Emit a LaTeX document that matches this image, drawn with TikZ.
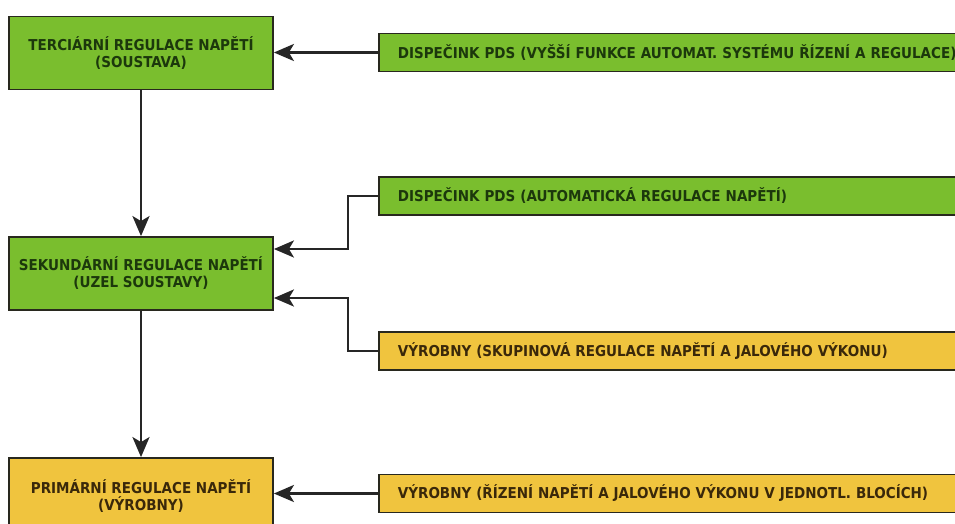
\documentclass[tikz,border=0pt]{standalone}
\usepackage{fontspec}
\setmainfont{DejaVu Sans Condensed}
\usetikzlibrary{arrows.meta}
\definecolor{gfill}{RGB}{122,190,46}
\definecolor{yfill}{RGB}{240,196,62}
\definecolor{gtext}{RGB}{28,56,12}
\definecolor{ytext}{RGB}{58,40,10}
\definecolor{bord}{RGB}{40,40,30}
\begin{document}
\begin{tikzpicture}[x=1pt,y=-1pt,
  box/.style={draw=bord,line width=1.8pt,font=\bfseries\fontsize{15}{17}\selectfont,align=center,inner sep=0pt},
  lbox/.style={box,minimum width=264pt,minimum height=73pt},
  rbox/.style={box,anchor=west,minimum height=38pt,text width=600pt,inner xsep=19pt,align=left},
  gbox/.style={fill=gfill,text=gtext},
  ybox/.style={fill=yfill,text=ytext},
  conn/.style={line width=2.6pt,draw=black!85,-{Stealth[length=20pt,width=17pt,inset=5pt]}}]
\useasboundingbox (0,0) rectangle (955,523);
\clip (0,0) rectangle (955,523);
\fill[white] (0,0) rectangle (955,523);
\node[lbox,gbox] (terc) at (141,53) {TERCIÁRNÍ REGULACE NAPĚTÍ\\(SOUSTAVA)};
\node[lbox,gbox] (sek) at (141,273.5) {SEKUNDÁRNÍ REGULACE NAPĚTÍ\\(UZEL SOUSTAVY)};
\node[lbox,ybox,minimum height=76pt] (prim) at (141,496) {PRIMÁRNÍ REGULACE NAPĚTÍ\\(VÝROBNY)};
\node[rbox,gbox] (r1) at (378,52.5) {DISPEČINK PDS (VYŠŠÍ FUNKCE AUTOMAT. SYSTÉMU ŘÍZENÍ A REGULACE)};
\node[rbox,gbox] (r2) at (378,196) {DISPEČINK PDS (AUTOMATICKÁ REGULACE NAPĚTÍ)};
\node[rbox,ybox] (r3) at (378,351) {VÝROBNY (SKUPINOVÁ REGULACE NAPĚTÍ A JALOVÉHO VÝKONU)};
\node[rbox,ybox] (r4) at (378,493.5) {VÝROBNY (ŘÍZENÍ NAPĚTÍ A JALOVÉHO VÝKONU V JEDNOTL. BLOCÍCH)};
\coordinate (j1) at (348,249);
\coordinate (j2) at (348,298);
\draw[conn] (r1.west) -- (r1.west -| terc.east);
\draw[conn] (r2.west) -- (r2.west -| j1) -- (j1) -- (j1 -| sek.east);
\draw[conn] (r3.west) -- (r3.west -| j2) -- (j2) -- (j2 -| sek.east);
\draw[conn] (r4.west) -- (r4.west -| prim.east);
\draw[conn] (terc.south) -- (sek.north);
\draw[conn] (sek.south) -- (prim.north);
\end{tikzpicture}
\end{document}
